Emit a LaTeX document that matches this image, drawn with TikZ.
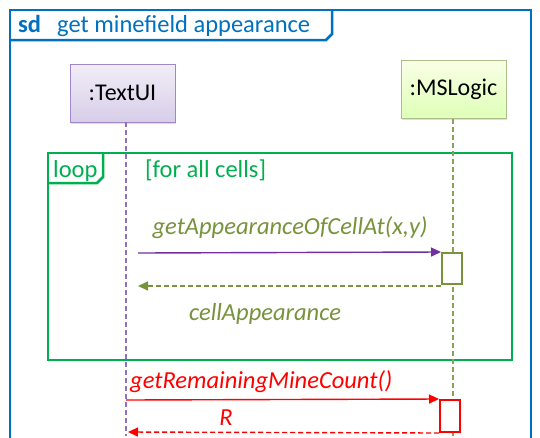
\documentclass[tikz,border=0pt]{standalone}
\usepackage{fontspec}
\setmainfont{Carlito}
\usetikzlibrary{arrows.meta,shadows}
\definecolor{sdblue}{HTML}{0070C0}
\definecolor{loopgreen}{HTML}{00B050}
\definecolor{olive}{HTML}{77933C}
\definecolor{uipurple}{HTML}{7030A0}
\definecolor{uiline}{HTML}{8E72C0}
\definecolor{msgred}{HTML}{FF0000}
\tikzset{
  objbox/.style={draw, line width=1pt, minimum height=58pt, minimum width=105pt,
    font=\fontsize{24}{28}\selectfont, text=black,
    drop shadow={opacity=0.25, shadow xshift=1.2pt, shadow yshift=-1.5pt}},
  lifeline/.style={dashed, dash pattern=on 5pt off 3pt, line width=2pt},
  actbox/.style={draw, fill=white, line width=2pt, minimum width=20pt, minimum height=31pt, inner sep=0pt},
  callmsg/.style={line width=1.4pt, -{Triangle[length=10pt,width=9pt]}},
  retmsg/.style={line width=1.4pt, dashed, dash pattern=on 5pt off 3pt, -{Triangle[length=10pt,width=9pt]}},
  msglabel/.style={font=\fontsize{24.5}{28}\selectfont\itshape, inner sep=0pt},
  framelabel/.style={font=\fontsize{24.5}{28}\selectfont, inner sep=0pt, anchor=base west}
}
\begin{document}
\begin{tikzpicture}[x=1pt,y=-1pt]
\useasboundingbox[fill=white] (0,0) rectangle (540,437);

% sequence diagram frame with its name tab
\draw[sdblue, line width=2.5pt] (10,440) -- (10,10) -- (531,10) -- (531,440);
\draw[sdblue, line width=2.5pt] (10,40) -- (326,40) -- (332,34) -- (332,10);
\node[framelabel, text=sdblue] (sdkw) at (18,32) {\bfseries sd};
\node[framelabel, text=sdblue] (sdname) at (57,32) {get minefield appearance};

% participants
\node[objbox, draw=uiline!85, top color=uiline!12, bottom color=uiline!35] (ui) at (122.5,93) {:TextUI};
\node[objbox, draw=olive!60, top color=green!25!yellow!10, bottom color=green!45!yellow!28] (logic) at (453.5,89.5) {:MSLogic};

% lifeline anchors
\coordinate (uitop) at (126,122);
\coordinate (uibot) at (126,436);
\coordinate (lgtop) at (453,119);
\coordinate (lgbot) at (453,440);

% loop fragment
\draw[loopgreen, line width=2.5pt] (48,153) rectangle (512,360);
\draw[loopgreen, line width=2.5pt] (48,183) -- (97,183) -- (103,177) -- (103,153);
\node[framelabel, text=loopgreen] (loopkw) at (53,177) {loop};
\node[framelabel, text=loopgreen] (guard) at (145,177) {[for all cells]};

% lifelines
\draw[lifeline, uiline] (uitop) -- (uibot);
\draw[lifeline, olive!85] (lgtop) -- (lgbot);

% activations
\node[actbox, draw=olive] (act1) at (452,268.5) {};
\node[actbox, draw=msgred, minimum height=32pt] (act2) at (450,416) {};

% messages inside the loop
\coordinate (m1s) at (138,253);
\coordinate (r1e) at (138,286);
\draw[callmsg, uipurple] (m1s) -- (act1.north west);
\draw[retmsg, olive] (act1.south west |- r1e) -- (r1e);
\node[msglabel, text=olive] (m1lbl) at (290,228) {getAppearanceOfCellAt(x,y)};
\node[msglabel, text=olive] (r1lbl) at (265,314) {cellAppearance};

% remaining mine count call
\coordinate (m2s) at (126,400);
\coordinate (r2e) at (128,432);
\draw[callmsg, msgred] (m2s) -- (act2.north west);
\draw[retmsg, msgred] (act2.south west) -- (r2e);
\node[msglabel, text=msgred, anchor=west] (m2lbl) at (130,382) {getRemainingMineCount()};
\node[msglabel, text=msgred] (r2lbl) at (226,418) {R};
\end{tikzpicture}
\end{document}
